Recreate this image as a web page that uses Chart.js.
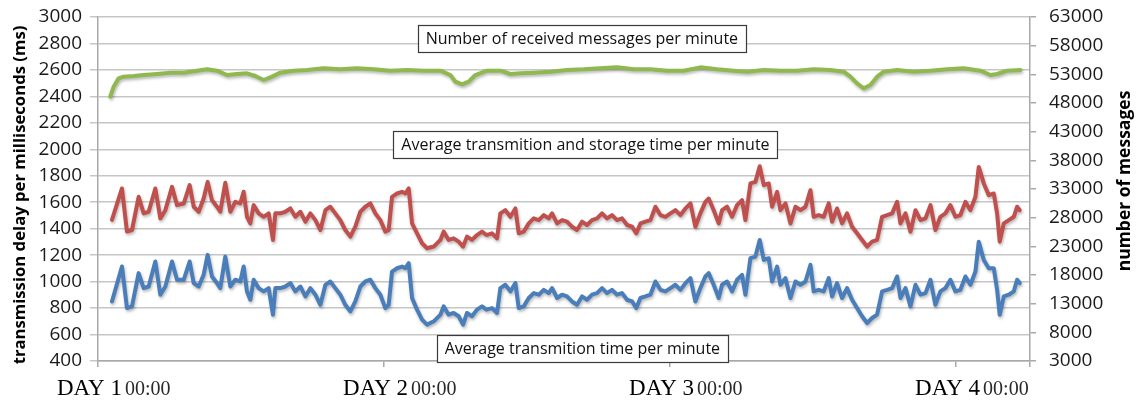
<!DOCTYPE html>
<html>
<head>
<meta charset="utf-8">
<title>Transmission delay and received messages</title>
<script src="https://cdn.jsdelivr.net/npm/chart.js@4.4.1/dist/chart.umd.min.js"></script>
<style>
  html, body { margin: 0; padding: 0; background: #fff; }
  #wrap { width: 1137px; height: 401px; }
</style>
</head>
<body>
<div id="wrap"><canvas id="delayChart" width="1137" height="401"></canvas></div>
<script>
// sample times (hours after DAY 1 00:00) shared by the two delay series
const delayHours = [
  1.17, 2.01, 2.43, 2.85, 3.41, 3.83, 4.25, 4.81, 5.23, 5.65,
  6.21, 6.63, 7.19, 7.69, 8.03, 8.45, 8.86, 9.20, 9.56, 9.98,
  10.26, 10.68, 11.10, 11.52, 11.94, 12.22, 12.50, 12.78, 13.06, 13.48,
  13.90, 14.32, 14.68, 14.88, 15.30, 15.72, 16.14, 16.56, 16.98, 17.40,
  17.82, 18.24, 18.66, 19.08, 19.49, 19.91, 20.33, 20.75, 21.17, 21.59,
  22.01, 22.43, 22.85, 23.27, 23.69, 24.11, 24.39, 24.67, 25.09, 25.51,
  25.79, 26.07, 26.35, 26.77, 27.19, 27.61, 28.17, 28.73,
  29.00, 29.42, 29.84, 30.26, 30.63, 30.96, 31.38, 31.80, 32.22, 32.59,
  33.06, 33.48, 33.76, 34.18, 34.60, 35.02, 35.30, 35.72, 36.14, 36.56,
  36.98, 37.40, 37.82, 38.10, 38.52, 38.94, 39.35, 39.77, 40.19, 40.61,
  41.03, 41.45, 41.87, 42.29, 42.71, 43.13, 43.55, 43.97, 44.39, 44.81,
  45.17, 45.51, 45.93, 46.35, 46.77, 47.19, 47.61, 48.03, 48.45, 48.87,
  49.29, 49.71, 50.12, 50.54, 50.96, 51.24, 51.66, 52.08, 52.36, 52.78,
  53.20, 53.62, 54.04, 54.32,
  54.74, 55.16, 55.52, 55.86, 56.28, 56.56, 56.98, 57.26, 57.68, 58.10,
  58.52, 58.94, 59.36, 59.78, 60.05, 60.47, 60.89, 61.31, 61.59, 62.01,
  62.43, 62.85, 63.27, 63.69, 64.11, 64.53, 64.95, 65.37, 65.79, 66.21,
  66.63, 67.05, 67.33, 67.75, 68.17, 68.59, 69.01, 69.43, 69.85, 70.26,
  70.68, 71.10, 71.52, 71.94, 72.36, 72.78, 73.20, 73.62, 73.90, 74.32,
  74.74, 75.16, 75.44, 75.66, 76.00, 76.42, 76.84, 77.12, 77.34
];

// average transmission + storage time per minute (ms)
const storageMs = [
  1466, 1704, 1378, 1390, 1641, 1516, 1528, 1704, 1478, 1540,
  1716, 1578, 1590, 1729, 1566, 1528, 1628, 1754, 1616, 1566,
  1528, 1747, 1528, 1603, 1591, 1679, 1490, 1440, 1578, 1516,
  1490, 1516, 1315, 1516, 1516, 1528, 1553, 1490, 1528, 1453,
  1516, 1465, 1390, 1540, 1566, 1516, 1465, 1390, 1340, 1415,
  1528, 1566, 1591, 1516, 1465, 1378, 1390, 1641, 1666, 1679,
  1666, 1704, 1440, 1365, 1290, 1252, 1265, 1315,
  1378, 1315, 1327, 1302, 1265, 1340, 1315, 1352, 1378, 1352,
  1365, 1327, 1516, 1540, 1490, 1553, 1365, 1378, 1440, 1478,
  1465, 1503, 1478, 1516, 1440, 1465, 1453, 1415, 1390, 1453,
  1428, 1465, 1478, 1516, 1478, 1503, 1465, 1478, 1428, 1415,
  1365, 1440, 1453, 1465, 1566, 1503, 1490, 1516, 1540, 1503,
  1553, 1591, 1415, 1516, 1603, 1628, 1540, 1440, 1540, 1566,
  1490, 1578, 1616, 1465,
  1742, 1754, 1872, 1729, 1742, 1566, 1679, 1540, 1591, 1440,
  1566, 1540, 1566, 1691, 1490, 1503, 1490, 1591, 1453, 1553,
  1440, 1516, 1415, 1365, 1315, 1265, 1302, 1315, 1490, 1503,
  1516, 1603, 1440, 1516, 1378, 1540, 1465, 1478, 1578, 1390,
  1490, 1516, 1578, 1490, 1503, 1603, 1540, 1641, 1867, 1742,
  1654, 1666, 1516, 1302, 1440, 1465, 1490, 1566, 1540
];

// average transmission time per minute (ms)
const transMs = [
  850, 1114, 800, 813, 1064, 951, 963, 1152, 901, 963,
  1152, 1014, 1014, 1152, 989, 963, 1051, 1202, 1039, 989,
  951, 1189, 963, 1014, 1001, 1114, 926, 863, 1014, 951,
  926, 951, 750, 951, 951, 963, 989, 926, 963, 888,
  951, 901, 825, 976, 1001, 951, 901, 825, 775, 850,
  963, 1001, 1014, 951, 901, 800, 825, 1076, 1101, 1114,
  1101, 1139, 876, 788, 713, 675, 700, 750,
  813, 750, 763, 738, 675, 763, 738, 788, 813, 788,
  800, 763, 951, 976, 926, 989, 800, 813, 876, 913,
  901, 938, 913, 951, 876, 901, 888, 850, 825, 888,
  863, 901, 913, 951, 913, 938, 901, 913, 863, 850,
  800, 876, 888, 901, 1001, 938, 926, 951, 976, 938,
  989, 1026, 850, 951, 1039, 1064, 976, 876, 976, 1001,
  926, 1014, 1051, 901,
  1177, 1189, 1315, 1164, 1177, 1001, 1114, 976, 1026, 876,
  1001, 976, 1001, 1127, 926, 938, 926, 1026, 888, 989,
  876, 951, 863, 800, 738, 687, 725, 750, 926, 938,
  951, 1039, 876, 951, 813, 976, 901, 913, 1014, 825,
  926, 951, 1014, 926, 938, 1039, 976, 1076, 1302, 1164,
  1101, 1101, 938, 750, 888, 901, 926, 1014, 989
];

// received messages per minute, sampled at msgHours
const msgHours = [
  1.03, 1.31, 1.73, 2.15, 2.99, 3.83, 4.95, 6.07, 7.19, 8.31,
  9.15, 9.98, 10.82, 11.66, 12.50, 13.20, 13.90, 14.46, 15.30, 16.41,
  17.54, 18.93, 20.33, 21.73, 23.13, 24.53, 25.93, 27.32, 28.73,
  29.56, 29.98, 30.55, 31.10, 31.66, 32.64, 33.76, 34.60, 35.44, 36.56,
  37.96, 39.35, 40.75, 42.15, 43.55, 44.95, 46.35, 47.75, 49.14, 50.54,
  51.94, 53.34,
  54.46, 55.86, 57.26, 58.66, 60.05, 61.45, 62.57, 63.13, 63.69, 64.25,
  64.81, 65.37, 65.93, 67.05, 68.44, 69.84, 71.24, 72.64, 74.04, 74.88,
  75.44, 76.28, 77.40
];
const receivedMsgs = [
  49100, 50845, 52300, 52590, 52710, 52880, 53060, 53290, 53290, 53640,
  53870, 53640, 52880, 53060, 53170, 52710, 52010, 52480, 53290, 53640,
  53760, 54050, 53870, 54050, 53870, 53640, 53760, 53640, 53640,
  52880, 51720, 51260, 51720, 52880, 53640, 53640, 53060, 53170, 53290,
  53460, 53760, 53870, 54050, 54220, 53870, 53870, 53640, 53640, 54220,
  53870, 53640,
  53460, 53760, 53640, 53640, 53870, 53760, 53460, 52590, 51430, 50560,
  51140, 52590, 53460, 53760, 53460, 53640, 53870, 54050, 53640, 52880,
  53060, 53640, 53760
];

const dayTicks = [0, 24, 48, 72];
const dayNames = ['DAY 1', 'DAY 2', 'DAY 3', 'DAY 4'];
const dayTime = '00:00';

const seriesNotes = [
  { text: 'Number of received messages per minute', hour: 40.6, ms: 2837 },
  { text: 'Average transmition and storage time per minute', hour: 40.9, ms: 2040 },
  { text: 'Average transmition time per minute', hour: 40.64, ms: 498 }
];

const SANS = "'Open Sans', 'Noto Sans', sans-serif";
const SERIF = "'Liberation Serif', 'DejaVu Serif', serif";

const toPoints = (xs, ys) => xs.map((x, i) => ({ x, y: ys[i] }));

// keep the plot area where the layout padding puts it
const fixAxisWidth = width => s => {
  s.width = width;
  s.paddingTop = 0;
  s.paddingBottom = 0;
};

// soft drop shadow under the series lines
const lineShadow = {
  id: 'lineShadow',
  beforeDatasetsDraw(chart) {
    const ctx = chart.ctx;
    ctx.save();
    ctx.shadowColor = 'rgba(0, 0, 0, 0.28)';
    ctx.shadowBlur = 3;
    ctx.shadowOffsetX = 1;
    ctx.shadowOffsetY = 2;
  },
  afterDatasetsDraw(chart) {
    chart.ctx.restore();
  }
};

// "DAY n 00:00" labels under the day ticks
const dayLabels = {
  id: 'dayLabels',
  afterDraw(chart) {
    const ctx = chart.ctx;
    const xScale = chart.scales.x;
    ctx.save();
    ctx.textBaseline = 'alphabetic';
    ctx.textAlign = 'left';
    dayTicks.forEach((h, i) => {
      let x = xScale.getPixelForValue(h) - 41;
      ctx.font = `23px ${SERIF}`;
      ctx.fillStyle = '#000';
      ctx.fillText(dayNames[i], x, 395);
      x += ctx.measureText(dayNames[i]).width + 3;
      ctx.font = `20px ${SERIF}`;
      ctx.fillStyle = '#2a2a2a';
      ctx.fillText(dayTime, x, 395);
    });
    ctx.restore();
  }
};

// rotated axis titles, both reading upwards
const axisTitles = {
  id: 'axisTitles',
  afterDraw(chart) {
    const ctx = chart.ctx;
    const titles = [
      { text: 'transmission delay per milliseconds (ms)', x: 20, y: 195, size: 16.7 },
      { text: 'number of messages', x: 1125, y: 181, size: 17.5 }
    ];
    ctx.save();
    ctx.fillStyle = '#000';
    ctx.textAlign = 'center';
    ctx.textBaseline = 'middle';
    titles.forEach(t => {
      ctx.save();
      ctx.font = `bold ${t.size}px ${SANS}`;
      ctx.translate(t.x, t.y);
      ctx.rotate(-Math.PI / 2);
      ctx.fillText(t.text, 0, 0);
      ctx.restore();
    });
    ctx.restore();
  }
};

// boxed captions naming each series
const noteBoxes = {
  id: 'noteBoxes',
  afterDraw(chart) {
    const ctx = chart.ctx;
    const { x: xScale, y: yScale } = chart.scales;
    ctx.save();
    ctx.font = `16px ${SANS}`;
    ctx.textAlign = 'center';
    ctx.textBaseline = 'middle';
    seriesNotes.forEach(n => {
      const cx = xScale.getPixelForValue(n.hour);
      const cy = yScale.getPixelForValue(n.ms);
      const w = Math.round(ctx.measureText(n.text).width + 16);
      const h = 27;
      const left = Math.round(cx - w / 2) + 0.5;
      const top = Math.round(cy - h / 2) + 0.5;
      ctx.fillStyle = '#fff';
      ctx.fillRect(left, top, w, h);
      ctx.strokeStyle = '#3a3a3a';
      ctx.lineWidth = 1.2;
      ctx.strokeRect(left, top, w, h);
      ctx.fillStyle = '#111';
      ctx.fillText(n.text, cx, cy + 1);
    });
    ctx.restore();
  }
};

const canvas = document.getElementById('delayChart');

new Chart(canvas.getContext('2d'), {
  type: 'line',
  data: {
    datasets: [
      {
        label: 'Number of received messages per minute',
        data: toPoints(msgHours, receivedMsgs),
        yAxisID: 'y2',
        borderColor: '#8fb84e',
        borderWidth: 4
      },
      {
        label: 'Average transmition and storage time per minute',
        data: toPoints(delayHours, storageMs),
        yAxisID: 'y',
        borderColor: '#c0504d',
        borderWidth: 4
      },
      {
        label: 'Average transmition time per minute',
        data: toPoints(delayHours, transMs),
        yAxisID: 'y',
        borderColor: '#4a7ebb',
        borderWidth: 4
      }
    ]
  },
  options: {
    responsive: false,
    animation: false,
    layout: { padding: { top: 17, left: 0, right: 0, bottom: 0 } },
    elements: {
      point: { radius: 0 },
      line: { tension: 0, borderJoinStyle: 'round', borderCapStyle: 'round' }
    },
    plugins: {
      legend: { display: false },
      tooltip: { enabled: false }
    },
    scales: {
      x: {
        type: 'linear',
        min: 0,
        max: 78.2,
        ticks: { stepSize: 24, display: false },
        grid: { drawOnChartArea: false, tickLength: 6, color: '#a8a8a8', lineWidth: 1.5 },
        border: { color: '#a8a8a8', width: 1.5 },
        afterFit: s => { s.height = 40; }
      },
      y: {
        position: 'left',
        min: 400,
        max: 3000,
        ticks: {
          stepSize: 200,
          padding: 8,
          color: '#1a1a1a',
          font: { family: SANS, size: 19 },
          callback: v => String(v)
        },
        grid: { color: '#c6c6c6', lineWidth: 1.5, tickLength: 8 },
        border: { color: '#a8a8a8', width: 1.5 },
        afterFit: fixAxisWidth(98)
      },
      y2: {
        position: 'right',
        min: 3000,
        max: 63000,
        ticks: {
          stepSize: 5000,
          padding: 13,
          color: '#1a1a1a',
          font: { family: SANS, size: 19 },
          callback: v => String(v)
        },
        grid: { drawOnChartArea: false, tickLength: 6, color: '#a8a8a8', lineWidth: 1.5 },
        border: { color: '#a8a8a8', width: 1.5 },
        afterFit: fixAxisWidth(107)
      }
    }
  },
  plugins: [lineShadow, noteBoxes, dayLabels, axisTitles]
});
</script>
</body>
</html>
